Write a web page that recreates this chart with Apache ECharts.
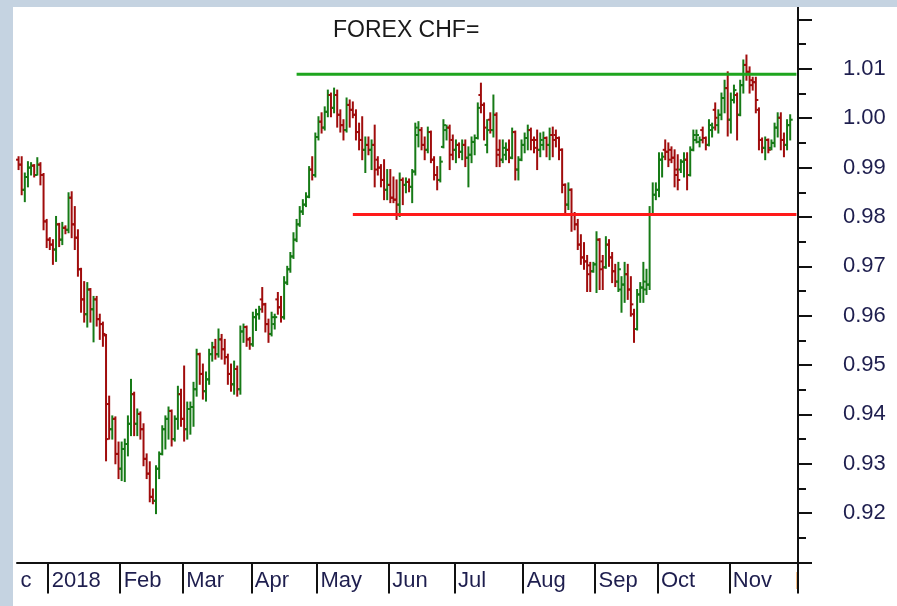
<!DOCTYPE html>
<html>
<head>
<meta charset="utf-8">
<script src="https://cdn.jsdelivr.net/npm/echarts/dist/echarts.min.js"></script>
<style>
  html, body { margin: 0; padding: 0; background: #fff; }
  #wrap { position: relative; width: 897px; height: 606px; background: #c5d3e1; }
  #main { position: absolute; left: 13px; top: 7px; width: 884px; height: 599px; background: #fff; }
</style>
</head>
<body>
<div id="wrap"><div id="main"></div></div>
<script>
// weekdays shown on the x axis
var firstDay = '2017-12-18';
var lastDay = '2018-11-30';
// label written at the start of each month ("c" is the cut-off "Dec")
var monthLabels = ['c', '2018', 'Feb', 'Mar', 'Apr', 'May', 'Jun', 'Jul', 'Aug', 'Sep', 'Oct', 'Nov'];

// horizontal levels drawn on the chart: [start index, end index, value]
var resistance = [89, 249, 1.0089];
var support = [107, 249, 0.9805];

// daily bars: [open, close, low, high]
var ohlc = [
  [0.9916,0.9906,0.9896,0.9922],[0.9906,0.9855,0.9845,0.9922],[0.9855,0.9881,0.9831,0.9889],[0.9881,0.9900,0.9861,0.9912],
  [0.9900,0.9904,0.9885,0.9910],[0.9904,0.9885,0.9881,0.9906],[0.9885,0.9906,0.9885,0.9920],[0.9906,0.9885,0.9865,0.9910],
  [0.9885,0.9791,0.9774,0.9888],[0.9791,0.9754,0.9738,0.9795],[0.9754,0.9744,0.9734,0.9758],[0.9744,0.9734,0.9704,0.9754],
  [0.9734,0.9785,0.9710,0.9801],[0.9785,0.9754,0.9740,0.9787],[0.9754,0.9778,0.9744,0.9789],[0.9778,0.9774,0.9766,0.9782],
  [0.9774,0.9839,0.9768,0.9849],[0.9839,0.9785,0.9758,0.9851],[0.9785,0.9758,0.9734,0.9821],[0.9758,0.9694,0.9680,0.9774],
  [0.9694,0.9633,0.9607,0.9696],[0.9633,0.9603,0.9587,0.9669],[0.9603,0.9653,0.9577,0.9667],[0.9653,0.9613,0.9587,0.9655],
  [0.9613,0.9633,0.9547,0.9639],[0.9633,0.9593,0.9579,0.9639],[0.9593,0.9583,0.9552,0.9603],[0.9583,0.9563,0.9538,0.9587],
  [0.9560,0.9350,0.9306,0.9562],[0.9421,0.9370,0.9350,0.9437],[0.9370,0.9391,0.9350,0.9397],[0.9391,0.9320,0.9300,0.9395],
  [0.9320,0.9290,0.9270,0.9344],[0.9290,0.9330,0.9266,0.9344],[0.9330,0.9340,0.9264,0.9350],[0.9340,0.9381,0.9316,0.9397],
  [0.9381,0.9441,0.9357,0.9471],[0.9441,0.9381,0.9357,0.9445],[0.9381,0.9401,0.9357,0.9411],[0.9401,0.9370,0.9350,0.9405],
  [0.9370,0.9310,0.9296,0.9381],[0.9310,0.9280,0.9270,0.9320],[0.9280,0.9233,0.9223,0.9304],[0.9233,0.9225,0.9219,0.9249],
  [0.9225,0.9290,0.9199,0.9296],[0.9290,0.9320,0.9270,0.9324],[0.9320,0.9370,0.9318,0.9377],[0.9370,0.9391,0.9330,0.9397],
  [0.9391,0.9407,0.9350,0.9415],[0.9407,0.9350,0.9336,0.9409],[0.9350,0.9391,0.9346,0.9397],[0.9391,0.9441,0.9370,0.9457],
  [0.9441,0.9391,0.9376,0.9451],[0.9391,0.9370,0.9346,0.9498],[0.9370,0.9411,0.9350,0.9425],[0.9411,0.9415,0.9360,0.9425],
  [0.9415,0.9451,0.9376,0.9465],[0.9451,0.9522,0.9437,0.9532],[0.9522,0.9482,0.9461,0.9524],[0.9482,0.9447,0.9431,0.9502],
  [0.9447,0.9471,0.9427,0.9486],[0.9471,0.9522,0.9461,0.9532],[0.9522,0.9536,0.9508,0.9546],[0.9536,0.9522,0.9512,0.9552],
  [0.9522,0.9552,0.9516,0.9573],[0.9552,0.9532,0.9512,0.9562],[0.9532,0.9516,0.9502,0.9552],[0.9516,0.9482,0.9461,0.9522],
  [0.9482,0.9461,0.9447,0.9502],[0.9461,0.9492,0.9441,0.9508],[0.9492,0.9451,0.9437,0.9498],[0.9451,0.9568,0.9441,0.9579],
  [0.9568,0.9577,0.9546,0.9583],[0.9577,0.9552,0.9538,0.9579],[0.9552,0.9542,0.9532,0.9556],[0.9542,0.9597,0.9538,0.9607],
  [0.9597,0.9603,0.9570,0.9613],[0.9603,0.9613,0.9593,0.9619],[0.9633,0.9623,0.9607,0.9657],[0.9623,0.9583,0.9567,0.9625],
  [0.9583,0.9563,0.9546,0.9593],[0.9563,0.9597,0.9559,0.9607],[0.9583,0.9597,0.9573,0.9603],[0.9633,0.9617,0.9603,0.9647],
  [0.9617,0.9597,0.9587,0.9639],[0.9597,0.9667,0.9593,0.9679],[0.9667,0.9694,0.9663,0.9700],[0.9694,0.9720,0.9688,0.9728],
  [0.9720,0.9754,0.9716,0.9768],[0.9754,0.9785,0.9750,0.9795],[0.9785,0.9811,0.9781,0.9821],[0.9811,0.9825,0.9805,0.9835],
  [0.9825,0.9841,0.9821,0.9849],[0.9841,0.9896,0.9839,0.9902],[0.9896,0.9885,0.9875,0.9922],[0.9885,0.9962,0.9881,0.9970],
  [0.9962,0.9993,0.9956,1.0003],[0.9993,0.9981,0.9970,1.0011],[0.9981,1.0013,0.9976,1.0023],[1.0013,1.0047,1.0003,1.0057],
  [1.0047,1.0021,1.0003,1.0051],[1.0021,1.0047,1.0011,1.0061],[1.0047,1.0007,0.9982,1.0057],[1.0007,0.9986,0.9972,1.0017],
  [0.9986,0.9976,0.9956,0.9997],[0.9976,1.0027,0.9972,1.0041],[1.0027,1.0017,0.9982,1.0037],[1.0017,1.0007,1.0001,1.0033],
  [1.0007,0.9972,0.9956,1.0017],[0.9972,0.9956,0.9936,0.9990],[0.9956,0.9936,0.9916,1.0003],[0.9936,0.9946,0.9890,0.9962],
  [0.9946,0.9936,0.9926,0.9962],[0.9936,0.9946,0.9896,0.9956],[0.9946,0.9896,0.9861,0.9986],[0.9916,0.9900,0.9885,0.9922],
  [0.9900,0.9875,0.9861,0.9906],[0.9875,0.9855,0.9835,0.9916],[0.9855,0.9865,0.9835,0.9896],[0.9865,0.9839,0.9829,0.9896],
  [0.9839,0.9835,0.9829,0.9881],[0.9835,0.9825,0.9795,0.9875],[0.9825,0.9875,0.9801,0.9889],[0.9875,0.9865,0.9825,0.9879],
  [0.9865,0.9871,0.9849,0.9879],[0.9871,0.9861,0.9851,0.9877],[0.9861,0.9892,0.9829,0.9896],[0.9892,0.9981,0.9885,0.9990],
  [0.9966,0.9976,0.9942,0.9993],[0.9976,0.9946,0.9936,0.9981],[0.9946,0.9936,0.9916,0.9962],[0.9936,0.9972,0.9930,0.9982],
  [0.9972,0.9916,0.9910,0.9974],[0.9916,0.9885,0.9875,0.9922],[0.9885,0.9875,0.9855,0.9902],[0.9875,0.9912,0.9871,0.9922],
  [0.9942,0.9986,0.9940,0.9997],[0.9976,0.9981,0.9956,0.9986],[0.9981,0.9926,0.9896,0.9986],[0.9956,0.9936,0.9916,0.9966],
  [0.9936,0.9946,0.9910,0.9956],[0.9946,0.9932,0.9920,0.9950],[0.9932,0.9946,0.9916,0.9956],[0.9946,0.9920,0.9902,0.9956],
  [0.9920,0.9926,0.9861,0.9942],[0.9926,0.9952,0.9910,0.9962],[0.9952,0.9960,0.9926,0.9966],[0.9960,1.0021,0.9958,1.0031],
  [1.0047,1.0027,1.0011,1.0071],[1.0027,0.9981,0.9956,1.0031],[0.9946,0.9976,0.9930,0.9997],[0.9997,0.9976,0.9970,1.0011],
  [0.9976,1.0007,0.9962,1.0047],[1.0007,0.9926,0.9902,1.0011],[0.9936,0.9916,0.9902,0.9956],[0.9916,0.9940,0.9910,0.9956],
  [0.9926,0.9936,0.9916,0.9950],[0.9936,0.9920,0.9910,0.9956],[0.9920,0.9972,0.9918,0.9980],[0.9972,0.9896,0.9875,0.9974],
  [0.9896,0.9916,0.9875,0.9922],[0.9916,0.9946,0.9914,0.9956],[0.9946,0.9960,0.9930,0.9970],[0.9960,0.9976,0.9936,0.9986],
  [0.9976,0.9956,0.9936,0.9980],[0.9956,0.9940,0.9930,0.9962],[0.9956,0.9936,0.9896,0.9976],[0.9936,0.9956,0.9922,0.9970],
  [0.9946,0.9960,0.9936,0.9972],[0.9960,0.9946,0.9922,0.9962],[0.9946,0.9966,0.9916,0.9980],[0.9966,0.9956,0.9922,0.9982],
  [0.9966,0.9960,0.9942,0.9976],[0.9960,0.9936,0.9916,0.9962],[0.9936,0.9865,0.9849,0.9938],[0.9865,0.9825,0.9809,0.9867],
  [0.9825,0.9855,0.9815,0.9869],[0.9855,0.9805,0.9771,0.9857],[0.9805,0.9785,0.9774,0.9809],[0.9785,0.9744,0.9734,0.9795],
  [0.9744,0.9718,0.9704,0.9764],[0.9718,0.9710,0.9694,0.9748],[0.9710,0.9684,0.9649,0.9722],[0.9702,0.9690,0.9649,0.9708],
  [0.9690,0.9704,0.9688,0.9708],[0.9704,0.9754,0.9647,0.9770],[0.9754,0.9694,0.9653,0.9756],[0.9710,0.9698,0.9653,0.9722],
  [0.9698,0.9744,0.9696,0.9760],[0.9744,0.9718,0.9700,0.9754],[0.9718,0.9690,0.9667,0.9728],[0.9690,0.9669,0.9659,0.9704],
  [0.9669,0.9694,0.9649,0.9708],[0.9653,0.9663,0.9607,0.9679],[0.9663,0.9684,0.9627,0.9708],[0.9684,0.9653,0.9633,0.9704],
  [0.9653,0.9623,0.9599,0.9679],[0.9603,0.9573,0.9546,0.9613],[0.9573,0.9643,0.9571,0.9653],[0.9643,0.9657,0.9627,0.9667],
  [0.9657,0.9669,0.9627,0.9708],[0.9653,0.9663,0.9643,0.9694],[0.9663,0.9805,0.9653,0.9821],[0.9805,0.9845,0.9803,0.9869],
  [0.9845,0.9855,0.9835,0.9869],[0.9855,0.9916,0.9841,0.9930],[0.9916,0.9922,0.9881,0.9930],[0.9936,0.9932,0.9916,0.9956],
  [0.9932,0.9916,0.9902,0.9950],[0.9936,0.9920,0.9910,0.9942],[0.9920,0.9885,0.9861,0.9936],[0.9896,0.9875,0.9855,0.9926],
  [0.9896,0.9912,0.9890,0.9916],[0.9912,0.9916,0.9881,0.9930],[0.9916,0.9885,0.9855,0.9930],[0.9885,0.9936,0.9883,0.9942],
  [0.9936,0.9966,0.9934,0.9976],[0.9956,0.9966,0.9950,0.9976],[0.9952,0.9956,0.9942,0.9962],[0.9976,0.9960,0.9950,0.9982],
  [0.9960,0.9946,0.9936,0.9962],[0.9946,0.9986,0.9944,0.9997],[0.9976,0.9981,0.9962,0.9990],[1.0017,1.0001,0.9976,1.0031],
  [0.9986,1.0007,0.9970,1.0017],[1.0007,1.0041,0.9997,1.0051],[1.0041,1.0061,1.0011,1.0077],[1.0061,0.9997,0.9964,1.0094],
  [0.9997,1.0037,0.9970,1.0051],[1.0037,1.0057,1.0031,1.0067],[1.0047,1.0007,0.9956,1.0051],[1.0007,1.0067,1.0005,1.0077],
  [1.0067,1.0108,1.0051,1.0118],[1.0108,1.0094,1.0077,1.0128],[1.0094,1.0067,1.0051,1.0104],[1.0077,1.0073,1.0057,1.0083],
  [1.0073,1.0037,1.0011,1.0083],[1.0017,0.9956,0.9936,1.0021],[0.9956,0.9940,0.9930,0.9960],[0.9940,0.9956,0.9916,0.9962],
  [0.9956,0.9936,0.9930,0.9958],[0.9940,0.9950,0.9936,0.9956],[0.9950,0.9981,0.9942,0.9990],[0.9981,1.0001,0.9962,1.0011],
  [1.0001,0.9956,0.9936,1.0011],[0.9956,0.9946,0.9922,0.9970],[0.9946,0.9986,0.9936,0.9997],[0.9986,0.9997,0.9956,1.0007]
];

var upColor = '#167a16';
var downColor = '#a00c0c';
var textColor = '#1e1e4e';
var fontFamily = '"Liberation Sans", Arial, sans-serif';

// trading days (Mon-Fri)
var dates = [];
var d = new Date(firstDay + 'T00:00:00Z');
var end = new Date(lastDay + 'T00:00:00Z');
while (d <= end) {
  var wd = d.getUTCDay();
  if (wd > 0 && wd < 6) dates.push(d.toISOString().slice(0, 10));
  d.setUTCDate(d.getUTCDate() + 1);
}

// index of first day of each month -> label
var monthStart = {};
var k = 0;
dates.forEach(function (s, i) {
  if (i === 0 || s.slice(5, 7) !== dates[i - 1].slice(5, 7)) {
    monthStart[i] = monthLabels[k++];
  }
});

var barData = ohlc.map(function (r, i) {
  return [i, r[0], r[1], r[2], r[3]];
});

var myChart = echarts.init(document.getElementById('main'));

var option = {
  backgroundColor: '#ffffff',
  animation: false,
  title: {
    text: 'FOREX CHF=',
    left: 320,
    top: 12,
    padding: 0,
    textStyle: { fontSize: 23, fontWeight: 'normal', color: '#1a1a1a', fontFamily: fontFamily }
  },
  grid: { left: 4, right: 99, top: 12.5, bottom: 43.5 },
  xAxis: {
    type: 'category',
    data: dates,
    boundaryGap: true,
    axisLine: { lineStyle: { color: '#111', width: 2 } },
    axisTick: {
      show: true,
      length: 31,
      interval: function (i) { return i > 0 && monthStart[i] !== undefined; },
      lineStyle: { color: '#111', width: 2 }
    },
    axisLabel: {
      interval: function (i) { return monthStart[i] !== undefined; },
      formatter: function (v, i) { return monthStart[i]; },
      align: 'left',
      padding: [0, 0, 0, 2],
      margin: 7,
      fontSize: 22,
      color: textColor,
      fontFamily: fontFamily
    },
    splitLine: { show: false }
  },
  yAxis: {
    type: 'value',
    position: 'right',
    min: 0.91,
    max: 1.02,
    interval: 0.01,
    axisLine: { show: true, lineStyle: { color: '#111', width: 2 } },
    axisTick: { show: true, length: 14, lineStyle: { color: '#111', width: 2 } },
    minorTick: { show: true, splitNumber: 2, length: 8, lineStyle: { color: '#111', width: 2 } },
    splitLine: { show: false },
    axisLabel: {
      margin: 45,
      fontSize: 22,
      color: textColor,
      fontFamily: fontFamily,
      showMinLabel: false,
      showMaxLabel: false,
      formatter: function (v) { return v.toFixed(2); }
    }
  },
  series: [
    {
      type: 'custom',
      data: barData,
      encode: { x: 0, y: [1, 2, 3, 4] },
      renderItem: function (params, api) {
        var idx = api.value(0);
        var pO = api.coord([idx, api.value(1)]);
        var pC = api.coord([idx, api.value(2)]);
        var pL = api.coord([idx, api.value(3)]);
        var pH = api.coord([idx, api.value(4)]);
        var x = pO[0];
        var color = api.value(2) >= api.value(1) ? upColor : downColor;
        var style = { stroke: color, lineWidth: 2 };
        return {
          type: 'group',
          children: [
            { type: 'line', shape: { x1: x, y1: pH[1] - 0.5, x2: x, y2: pL[1] + 0.5 }, style: style },
            { type: 'line', shape: { x1: x - 2.5, y1: pO[1], x2: x, y2: pO[1] }, style: style },
            { type: 'line', shape: { x1: x, y1: pC[1], x2: x + 2.5, y2: pC[1] }, style: style }
          ]
        };
      }
    },
    {
      type: 'line',
      data: [[resistance[0], resistance[2]], [resistance[1], resistance[2]]],
      showSymbol: false,
      lineStyle: { color: '#1ea51e', width: 3 },
      z: 3
    },
    {
      type: 'line',
      data: [[support[0], support[2]], [support[1], support[2]]],
      showSymbol: false,
      lineStyle: { color: '#ff1a1a', width: 3 },
      z: 3
    }
  ],
  graphic: [
    // y axis line runs up to the top edge of the panel
    { type: 'line', shape: { x1: 785, y1: 0, x2: 785, y2: 13 }, style: { stroke: '#111', lineWidth: 2 } },
    { type: 'rect', left: 783, top: 565, shape: { width: 2, height: 17 }, style: { fill: '#f6c089' } }
  ]
};

myChart.setOption(option);
window.onresize = function () {
  myChart.resize();
};
</script>
</body>
</html>
